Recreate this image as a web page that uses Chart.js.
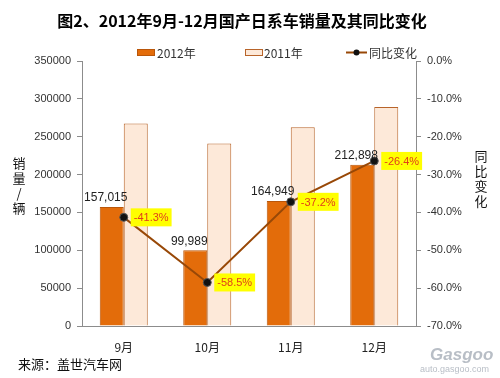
<!DOCTYPE html>
<html>
<head>
<meta charset="utf-8">
<script src="https://cdn.jsdelivr.net/npm/chart.js@4"></script>
<style>
  html, body { margin: 0; padding: 0; background: #fff; }
  canvas { display: block; }
</style>
</head>
<body>
<canvas id="grafico" width="500" height="378"></canvas>
<script>
const meses = ['9月', '10月', '11月', '12月'];
const ventas2012 = [157015, 99989, 164949, 212898];
const ventas2011 = [267487, 240937, 262658, 289264];
const cambio = [-41.3, -58.5, -37.2, -26.4];

const FUENTE = '"Liberation Sans", "Noto Sans CJK SC", sans-serif';
const CJK = '"Noto Sans CJK SC", "Liberation Sans", sans-serif';

const colores = {
    naranja: '#E36C0A',
    naranjaBorde: '#B9560A',
    claro: '#FDE9D9',
    claroBorde: '#B8642A',
    linea: '#984807',
    eje: '#8C8C8C'
};

// etiquetas, titulo, leyenda y textos sueltos
const extras = {
    id: 'extras',
    afterDatasetsDraw(chart) {
        const ctx = chart.ctx;
        ctx.save();

        // valores encima de las barras 2012
        const barras = chart.getDatasetMeta(0).data;
        ctx.font = '12px ' + FUENTE;
        ctx.fillStyle = '#222';
        ctx.textAlign = 'center';
        ctx.textBaseline = 'bottom';
        barras.forEach((b, i) => {
            ctx.fillText(ventas2012[i].toLocaleString('en-US'), b.x - 6, b.y - 3);
        });

        // cajas amarillas del porcentaje
        const puntos = chart.getDatasetMeta(2).data;
        ctx.font = '11px ' + FUENTE;
        ctx.textAlign = 'left';
        ctx.textBaseline = 'middle';
        puntos.forEach((p, i) => {
            const txt = cambio[i].toFixed(1) + '%';
            const w = ctx.measureText(txt).width + 6;
            const x = p.x + 7;
            ctx.fillStyle = '#FFFF00';
            ctx.fillRect(x, p.y - 9, w, 18);
            ctx.fillStyle = '#E0401A';
            ctx.fillText(txt, x + 3, p.y + 1);
        });
        ctx.restore();
    },
    afterDraw(chart) {
        const ctx = chart.ctx;
        ctx.save();

        // titulo
        ctx.fillStyle = '#000';
        ctx.font = 'bold 16px ' + CJK;
        ctx.textAlign = 'center';
        ctx.textBaseline = 'middle';
        ctx.fillText('图2、2012年9月-12月国产日系车销量及其同比变化', 242, 21);

        // leyenda
        ctx.font = '12px ' + CJK;
        ctx.textAlign = 'left';
        ctx.fillStyle = colores.naranja;
        ctx.fillRect(137, 49, 18, 7);
        ctx.strokeStyle = colores.naranjaBorde;
        ctx.lineWidth = 1;
        ctx.strokeRect(137.5, 49.5, 17, 6);
        ctx.fillStyle = '#333';
        ctx.fillText('2012年', 157, 53);

        ctx.fillStyle = colores.claro;
        ctx.fillRect(245, 49, 18, 7);
        ctx.strokeStyle = colores.claroBorde;
        ctx.strokeRect(245.5, 49.5, 17, 6);
        ctx.fillStyle = '#333';
        ctx.fillText('2011年', 264, 53);

        ctx.strokeStyle = colores.linea;
        ctx.lineWidth = 2;
        ctx.beginPath();
        ctx.moveTo(346, 52.5);
        ctx.lineTo(367, 52.5);
        ctx.stroke();
        ctx.fillStyle = '#111';
        ctx.beginPath();
        ctx.arc(356.5, 52.5, 3, 0, Math.PI * 2);
        ctx.fill();
        ctx.fillStyle = '#333';
        ctx.fillText('同比变化', 369, 53);

        // titulos de ejes, en vertical
        ctx.font = '13px ' + CJK;
        ctx.textAlign = 'center';
        ctx.fillStyle = '#111';
        ['销', '量', '/', '辆'].forEach((c, i) => ctx.fillText(c, 19, 163 + i * 15));
        ['同', '比', '变', '化'].forEach((c, i) => ctx.fillText(c, 481, 156 + i * 15));

        // fuente
        ctx.textAlign = 'left';
        ctx.font = '13px ' + CJK;
        ctx.fillStyle = '#111';
        ctx.fillText('来源：盖世汽车网', 18, 364);

        // marca de agua
        ctx.fillStyle = '#B8BEC6';
        ctx.font = 'italic bold 17px ' + FUENTE;
        ctx.fillText('Gasgoo', 430, 355);
        ctx.font = '9px ' + FUENTE;
        ctx.fillText('auto.gasgoo.com', 420, 370);
        ctx.restore();
    }
};

new Chart(document.getElementById('grafico'), {
    type: 'bar',
    data: {
        labels: meses,
        datasets: [{
            label: '2012年',
            data: ventas2012,
            backgroundColor: colores.naranja,
            borderColor: colores.naranjaBorde,
            borderWidth: 1,
            yAxisID: 'y',
            order: 1
        }, {
            label: '2011年',
            data: ventas2011,
            backgroundColor: colores.claro,
            borderColor: colores.claroBorde,
            borderWidth: 1,
            yAxisID: 'y',
            order: 1
        }, {
            type: 'line',
            label: '同比变化',
            data: cambio,
            borderColor: colores.linea,
            borderWidth: 2,
            pointBackgroundColor: '#111',
            pointBorderColor: '#555',
            pointBorderWidth: 1,
            pointRadius: 4,
            tension: 0,
            yAxisID: 'y2',
            order: 0
        }]
    },
    options: {
        responsive: false,
        animation: false,
        layout: { padding: { top: 61, left: 0, right: 0, bottom: 0 } },
        datasets: { bar: { barPercentage: 1, categoryPercentage: 0.575 } },
        plugins: {
            legend: { display: false },
            title: { display: false },
            tooltip: { enabled: false }
        },
        scales: {
            x: {
                offset: true,
                grid: { display: false },
                border: { color: colores.eje },
                ticks: { color: '#222', font: { size: 12, family: CJK }, padding: 6 },
                afterFit: s => { s.height = 52; }
            },
            y: {
                position: 'left',
                min: 0,
                max: 350000,
                ticks: {
                    stepSize: 50000,
                    color: '#333',
                    font: { size: 11, family: FUENTE },
                    padding: 6,
                    callback: v => String(v)
                },
                grid: { drawOnChartArea: false, tickLength: 5, color: colores.eje },
                border: { color: colores.eje },
                afterFit: s => { s.width = 82; }
            },
            y2: {
                position: 'right',
                min: -70,
                max: 0,
                ticks: {
                    stepSize: 10,
                    color: '#333',
                    font: { size: 11, family: FUENTE },
                    padding: 6,
                    callback: v => v.toFixed(1) + '%'
                },
                grid: { drawOnChartArea: false, tickLength: 5, color: colores.eje },
                border: { color: colores.eje },
                afterFit: s => { s.width = 84; }
            }
        }
    },
    plugins: [extras]
});
</script>
</body>
</html>
